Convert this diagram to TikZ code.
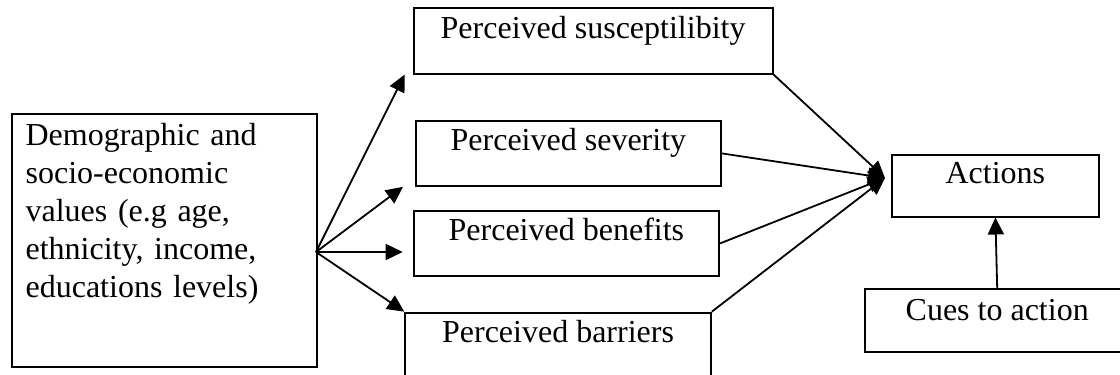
\documentclass[tikz,border=0pt]{standalone}
\usepackage{fontspec}
\setmainfont{Liberation Serif}
\usetikzlibrary{arrows.meta}
\tikzset{
	box/.style={draw, line width=1.8pt, anchor=north west, inner xsep=0pt, inner ysep=0pt,
		text height=30pt, font=\fontsize{32}{38}\selectfont},
	arr/.style={line width=1.8pt, -{Triangle[length=17pt,width=16pt]}},
}

\begin{document}
\begin{tikzpicture}[x=1pt,y=-1pt]
		%%%%% START %%%%%
		\useasboundingbox (0,0) rectangle (1120,375);
		
		\node[box, minimum width=305pt, text width=277pt, inner xsep=14pt, align=left,
			text height=31.7pt, text depth=221pt] (demo) at (10.7,113.3)
			{Demographic and\\socio-economic\\values (e.g age,\\ethnicity, income,\\educations levels)};
		
		\node[box, minimum width=359pt, text depth=35.4pt] (susc) at (412.7,7.3) {Perceived susceptilibity};
		\node[box, minimum width=305pt, text depth=35pt] (sev) at (415,120) {Perceived severity};
		\node[box, minimum width=305.6pt, text depth=35pt] (ben) at (412.7,210) {Perceived benefits};
		\node[box, minimum width=305.7pt, text depth=35pt] (bar) at (404.3,311.7) {Perceived barriers};
		
		\node[box, minimum width=207pt, text height=29pt, text depth=32.7pt] (act) at (891,154) {Actions};
		\node[box, minimum width=264pt, text height=31pt, text depth=31.7pt] (cue) at (864.3,288.3) {Cues to action};
		
		\coordinate (fan) at (316,252);
		\coordinate (meet) at (885,178);
		
		\draw[arr] (fan) -- ([xshift=-8pt]susc.south west);
		\draw[arr] (fan) -- ([xshift=-12pt]sev.south west);
		\draw[arr] (fan) -- ([xshift=-10pt]ben.west |- fan);
		\draw[arr] (fan) -- (bar.north west);
		
		\draw[arr] (susc.south east) -- (meet);
		\draw[arr] (sev.east) -- (meet);
		\draw[arr] (ben.east) -- (meet);
		\draw[arr] (bar.north east) -- (meet);
		
		\draw[arr] (cue.north) -- (act.south);
		%%%%% END %%%%%
	\end{tikzpicture}
\end{document}
